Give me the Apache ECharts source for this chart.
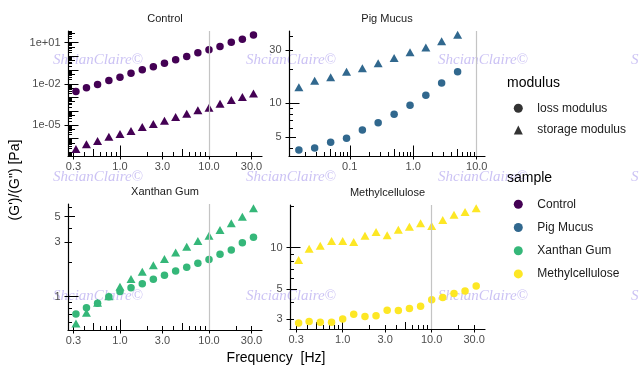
<!DOCTYPE html>
<html><head><meta charset="utf-8">
<script src="https://cdn.jsdelivr.net/npm/echarts@6/dist/echarts.min.js"></script>
<style>html,body{margin:0;padding:0;background:#fff}#c{width:639px;height:375px}</style>
</head><body><div id="c"></div>
<script>
// ---- data ----
const freqMain = [0.32,0.42,0.56,0.75,1.0,1.33,1.78,2.37,3.16,4.22,5.62,7.5,10,13.3,17.8,23.7,31.6];
const freqPig = [0.0158,0.028,0.05,0.089,0.158,0.28,0.5,0.89,1.58,2.8,5.0];

const controlLoss = [0.0028,0.0051,0.0089,0.0174,0.030,0.059,0.105,0.174,0.32,0.56,0.98,1.82,3.0,5.2,10.7,17.8,36];
const controlStorage = [1.8e-7,3.9e-7,6.7e-7,1.4e-6,2.2e-6,3.6e-6,7.1e-6,1.2e-5,2.0e-5,3.8e-5,6.6e-5,1.2e-4,1.8e-4,3.6e-4,6.6e-4,1.1e-3,2.0e-3];
const pigLoss = [3.82,3.98,4.48,4.86,5.77,6.70,7.97,9.6,11.8,15.2,19.2];
const pigStorage = [13.9,15.9,17.1,19.2,20.6,22.9,25.4,28.6,31.6,36.0,41.1];
const xanthanLoss = [0.706,0.80,0.875,1.0,1.11,1.20,1.30,1.42,1.54,1.68,1.81,1.96,2.12,2.35,2.56,2.96,3.31];
const xanthanStorage = [0.585,0.725,0.887,1.01,1.22,1.43,1.65,1.88,2.14,2.43,2.74,3.07,3.41,3.83,4.38,5.0,5.93];
const methylLoss = [2.81,2.88,2.84,2.84,3.0,3.26,3.14,3.17,3.49,3.47,3.59,3.73,4.15,4.32,4.62,4.82,5.25];
const methylStorage = [8.13,9.8,10.3,11.2,11.2,11.0,12.2,13.0,12.3,13.5,14.2,15.1,14.4,15.9,17.4,18.2,19.4];

const sampleNames = ['Control','Pig Mucus','Xanthan Gum','Methylcellulose'];
const modulusNames = ['loss modulus','storage modulus'];

const xTicksMain = [0.3,1,3,10,30];
const xTicksPig = [0.1,1,10];
const yTicksControl = [1e-5,1e-2,10];
const yTicksPig = [5,10,30];
const yTicksXanthan = [1,3,5];
const yTicksMethyl = [3,5,10];
const refLineFreq = 10;

// ---- styling / layout ----
const FONT = '"Liberation Sans", Arial, Helvetica, sans-serif';
const COLORS = ['#440154','#31688E','#35B779','#FDE725'];

function fmtFixed(v){ return (+v).toFixed(1); }
function fmtSci(v){ const e = Math.round(Math.log10(v)); return '1e' + (e < 0 ? '-' : '+') + String(Math.abs(e)).padStart(2,'0'); }
function fmtPlain(v){ return String(+(+v).toPrecision(6)); }

function logTicks(min, max, mults){
  const out = [];
  for (let e = Math.floor(Math.log10(min)) - 1; e <= Math.ceil(Math.log10(max)); e++) {
    for (const m of mults) {
      const v = +(m * Math.pow(10, e)).toPrecision(6);
      if (v >= min && v <= max) out.push(v);
    }
  }
  return out;
}

const panels = [
  {name: sampleNames[0], grid:{left:68, top:31, width:194, height:125}, xMin:0.2606, xMax:39.4, yMin:5.5e-8, yMax:71,
   xLabels:xTicksMain, yLabels:yTicksControl, yFmt:fmtSci, x:freqMain, loss:controlLoss, storage:controlStorage},
  {name: sampleNames[1], grid:{left:289, top:31, width:196, height:125}, xMin:0.01104, xMax:13.5, yMin:3.38, yMax:44.4,
   xLabels:xTicksPig, yLabels:yTicksPig, yFmt:fmtPlain, x:freqPig, loss:pigLoss, storage:pigStorage},
  {name: sampleNames[2], grid:{left:68, top:204, width:194, height:126}, xMin:0.2606, xMax:39.4, yMin:0.512, yMax:6.46,
   xLabels:xTicksMain, yLabels:yTicksXanthan, yFmt:fmtPlain, x:freqMain, loss:xanthanLoss, storage:xanthanStorage},
  {name: sampleNames[3], grid:{left:290, top:205, width:195, height:124}, xMin:0.256, xMax:39.7, yMin:2.54, yMax:20.5,
   xLabels:xTicksMain, yLabels:yTicksMethyl, yFmt:fmtPlain, x:freqMain, loss:methylLoss, storage:methylStorage}
];

function makeAxes(dim, gi, min, max, labels, fmt){
  const base = {type:'log', logBase:10, gridIndex:gi, min:min, max:max,
    position: dim === 'x' ? 'bottom' : 'left',
    splitLine:{show:false}, minorTick:{show:false}, minorSplitLine:{show:false}};
  const tickStyle = {color:'#000', width:1};
  const hidden = {axisLine:{show:false}, axisLabel:{show:false}};
  return [
    Object.assign({}, base, {
      axisLine:{show:true, onZero:false, lineStyle:{color:'#000', width:1.2}},
      axisTick:{show:true, inside:false, length:3.5, customValues:labels, lineStyle:tickStyle},
      axisLabel:{show:true, customValues:labels, formatter:fmt, margin: dim === 'x' ? 5 : 7.5,
        color:'#4d4d4d', fontSize:11, fontFamily:FONT}
    }),
    Object.assign({}, base, hidden, {axisTick:{show:true, inside:true, length:10.5, customValues:logTicks(min,max,[1]), lineStyle:tickStyle}}),
    Object.assign({}, base, hidden, {axisTick:{show:true, inside:true, length:7, customValues:logTicks(min,max,[5]), lineStyle:tickStyle}}),
    Object.assign({}, base, hidden, {axisTick:{show:true, inside:true, length:4, customValues:logTicks(min,max,[2,3,4,6,7,8,9]), lineStyle:tickStyle}})
  ];
}

const grid = [], xAxis = [], yAxis = [], series = [], graphic = [];

panels.forEach(function(p, gi){
  grid.push(Object.assign({containLabel:false}, p.grid));
  xAxis.push.apply(xAxis, makeAxes('x', gi, p.xMin, p.xMax, p.xLabels, fmtFixed));
  yAxis.push.apply(yAxis, makeAxes('y', gi, p.yMin, p.yMax, p.yLabels, p.yFmt));
  series.push({
    type:'scatter', name:p.name, xAxisIndex:4*gi, yAxisIndex:4*gi,
    symbol:'circle', symbolSize:7.5, itemStyle:{color:COLORS[gi], opacity:1},
    data: p.x.map(function(f,i){ return [f, p.loss[i]]; }),
    markLine:{silent:true, symbol:['none','none'], label:{show:false},
      lineStyle:{color:'#c4c4c4', width:1.2, type:'solid'}, data:[{xAxis:refLineFreq}]},
    z:3
  });
  series.push({
    type:'scatter', name:p.name, xAxisIndex:4*gi, yAxisIndex:4*gi,
    symbol:'triangle', symbolSize:[9,8], itemStyle:{color:COLORS[gi], opacity:1},
    data: p.x.map(function(f,i){ return [f, p.storage[i]]; }),
    z:3
  });
  graphic.push({type:'text', x:p.grid.left + p.grid.width/2, y:p.grid.top - 12, z:5,
    style:{text:p.name, font:'11px ' + FONT, fill:'#1a1a1a', textAlign:'center', textVerticalAlign:'middle', align:'center', verticalAlign:'middle'}});
});

// legend helper series (no marks)
series.push({type:'scatter', name:modulusNames[0], data:[], symbol:'circle', itemStyle:{color:'#000'}});
series.push({type:'scatter', name:modulusNames[1], data:[], symbol:'triangle', itemStyle:{color:'#000'}});

// watermark text
const wmCols = [53, 246, 438, 631], wmRows = [60, 177, 296];
wmRows.forEach(function(yy){ wmCols.forEach(function(xx){
  graphic.push({type:'text', x:xx, y:yy, z:-10, silent:true,
    style:{text:'ShcianClaire©', font:'italic 15px "Liberation Serif", "Times New Roman", serif',
      fill:'rgba(140,120,230,0.45)', textAlign:'left', textVerticalAlign:'middle', align:'left', verticalAlign:'middle'}});
});});

// axis titles & legend titles
graphic.push({type:'text', x:276, y:358, z:5, style:{text:'Frequency  [Hz]', font:'14px ' + FONT, fill:'#000', textAlign:'center', textVerticalAlign:'middle', align:'center', verticalAlign:'middle'}});
graphic.push({type:'text', x:15, y:180, rotation:Math.PI/2, z:5, style:{text:'(G\')/(G") [Pa]', font:'14px ' + FONT, fill:'#000', textAlign:'center', textVerticalAlign:'middle', align:'center', verticalAlign:'middle'}});
graphic.push({type:'text', x:507, y:83, z:5, style:{text:'modulus', font:'14px ' + FONT, fill:'#000', textAlign:'left', textVerticalAlign:'middle', align:'left', verticalAlign:'middle'}});
graphic.push({type:'text', x:507, y:178, z:5, style:{text:'sample', font:'14px ' + FONT, fill:'#000', textAlign:'left', textVerticalAlign:'middle', align:'left', verticalAlign:'middle'}});

const legendText = {fontSize:12, color:'#1a1a1a', fontFamily:FONT, lineHeight:14, padding:[0,0,0,9.5]};
const option = {
  animation:false,
  backgroundColor:'#fff',
  grid: grid, xAxis: xAxis, yAxis: yAxis, series: series, graphic: graphic,
  legend:[
    {data:[{name:modulusNames[0], icon:'circle'},{name:modulusNames[1], icon:'triangle'}],
     orient:'vertical', left:513.8, top:101.3, padding:0, itemWidth:9, itemHeight:9, itemGap:7.7,
     selectedMode:false, textStyle:legendText},
    {data:sampleNames.map(function(n){ return {name:n, icon:'circle'}; }),
     orient:'vertical', left:513.8, top:197.3, padding:0, itemWidth:9, itemHeight:9, itemGap:9.2,
     selectedMode:false, textStyle:legendText}
  ]
};
const chart = echarts.init(document.getElementById('c'), null, {renderer:'canvas'});
chart.setOption(option);
</script></body></html>
